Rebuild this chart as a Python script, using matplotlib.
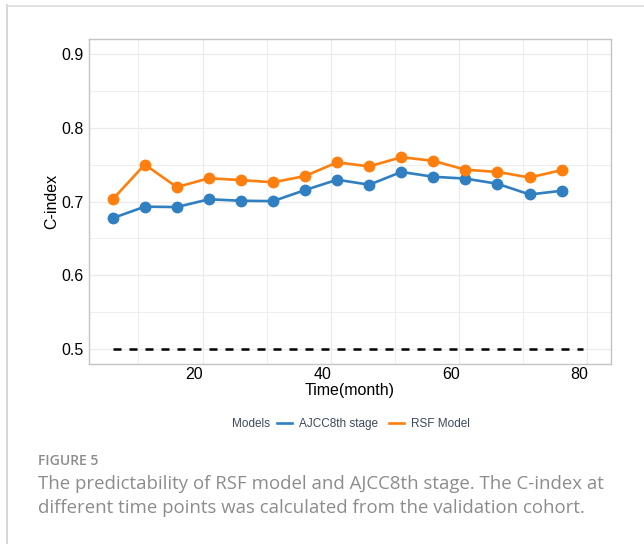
import matplotlib
matplotlib.use("Agg")
import numpy as np
import matplotlib.pyplot as plt
import matplotlib.transforms as mtransforms
from matplotlib.lines import Line2D

# C-index
time = [6, 11, 16, 21, 26, 31, 36, 41, 46, 51, 56, 61, 66, 71, 76]
rsf_model = [0.703, 0.750, 0.7195, 0.7315, 0.729, 0.726, 0.7345, 0.753,
             0.7475, 0.760, 0.755, 0.743, 0.740, 0.7325, 0.7425]
ajcc8 = [0.6775, 0.693, 0.6925, 0.703, 0.701, 0.7005, 0.7155, 0.7295,
         0.7227, 0.740, 0.7335, 0.731, 0.724, 0.7095, 0.7145]
ref_x = [6, 79.3]
ref_y = [0.5, 0.5]

blue = '#2f7fc1'
orange = '#ff7f0e'
grid_c = '#ebebeb'

plt.rcParams['font.family'] = ['Liberation Sans', 'DejaVu Sans']

fig = plt.figure(figsize=(6.44, 5.44), dpi=100)
W, H = 644, 544
ax = fig.add_axes([89 / W, (H - 364) / H, (611 - 89) / W, (364 - 39) / H])

ax.plot(ref_x, ref_y, ls=(0, (3.2, 3.2)), color='black', lw=1.8)
ax.plot(time, ajcc8, color=blue, lw=1.9, marker='o', ms=7.5, label='AJCC8th stage')
ax.plot(time, rsf_model, color=orange, lw=1.9, marker='o', ms=7.5, label='RSF Model')

ax.set_xlim(2.3, 83.7)
ax.set_ylim(0.48, 0.92)
ax.set_xticks([20, 40, 60, 80])
ax.set_xticks([10, 30, 50, 70], minor=True)
ax.set_yticks([0.5, 0.6, 0.7, 0.8, 0.9])
ax.set_yticks([0.55, 0.65, 0.75, 0.85], minor=True)
ax.set_yticklabels(['0.5', '0.6', '0.7', '0.8', '0.9'])
ax.grid(which='major', color=grid_c, lw=0.9)
ax.grid(which='minor', color=grid_c, lw=0.6)
ax.set_axisbelow(True)
ax.tick_params(which='both', length=0, labelsize=11.5, colors='black')
ax.tick_params(axis='x', pad=2)
ax.tick_params(axis='y', pad=4)
# x labels in the source sit a little left of their grid lines
shift = mtransforms.ScaledTranslation(-8 / 100, 0, fig.dpi_scale_trans)
for lab in ax.get_xticklabels():
    lab.set_transform(lab.get_transform() + shift)
for s in ax.spines.values():
    s.set_color('#c4c4c4')
    s.set_linewidth(1.0)
ax.set_xlabel('Time(month)', fontsize=11.5, labelpad=1)
ax.set_ylabel('C-index', fontsize=11.5, labelpad=1)

# legend at the bottom, title inline
txt_c = '#3b4a5c'
fig.text(232 / W, 1 - 424 / H, 'Models', fontsize=8.5, color=txt_c, va='center', ha='left')
handles = [Line2D([], [], color=blue, lw=1.9), Line2D([], [], color=orange, lw=1.9)]
fig.legend(handles, ['AJCC8th stage', 'RSF Model'], loc='center left',
           bbox_to_anchor=(271 / W, 1 - 424 / H), ncol=2, frameon=False,
           fontsize=8.5, labelcolor=txt_c, handlelength=1.3, handletextpad=0.6,
           columnspacing=0.9, borderpad=0)

# caption
cap_c = '#8c8c8c'
cap_font = ['Open Sans', 'DejaVu Sans']
fig.text(38 / W, 1 - 461 / H, 'FIGURE 5', fontsize=10, color=cap_c, va='center',
         family=cap_font, weight='semibold')
fig.text(38 / W, 1 - 484 / H, 'The predictability of RSF model and AJCC8th stage. The C-index at',
         fontsize=13.4, color=cap_c, va='center', family=cap_font)
fig.text(38 / W, 1 - 508 / H, 'different time points was calculated from the validation cohort.',
         fontsize=13.4, color=cap_c, va='center', family=cap_font)

# page frame
fig.add_artist(Line2D([7 / W, 7 / W], [0, 1 - 5 / H], color='#cfcfcf', lw=1.2))
fig.add_artist(Line2D([7 / W, 1], [1 - 5.5 / H, 1 - 5.5 / H], color='#dcdcdc', lw=1.2))

fig.savefig('out.png', dpi=100)
